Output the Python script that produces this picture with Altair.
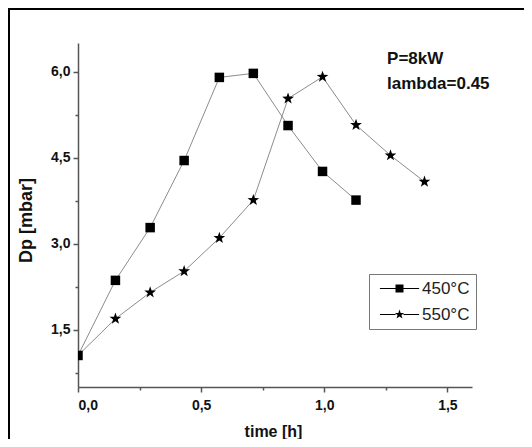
import altair as alt
import pandas as pd

# ---- data ----
series_names = ["450°C", "550°C"]
t_450 = [0.0, 0.152, 0.293, 0.431, 0.574, 0.712, 0.853, 0.993, 1.129]
dp_450 = [1.05, 2.36, 3.28, 4.45, 5.90, 5.97, 5.06, 4.26, 3.76]
t_550 = [0.0, 0.152, 0.293, 0.431, 0.574, 0.712, 0.853, 0.993, 1.129, 1.269, 1.407]
dp_550 = [1.05, 1.69, 2.15, 2.52, 3.10, 3.76, 5.53, 5.91, 5.07, 4.54, 4.08]

x_major = [0.0, 0.5, 1.0, 1.5]
x_minor = [0.25, 0.75, 1.25]
y_major = [1.5, 3.0, 4.5, 6.0]
y_minor = [0.75, 2.25, 3.75, 5.25]

annot_text = ["P=8kW", "lambda=0.45"]
annot_x = [1.255, 1.255]
annot_y = [6.128, 5.70]

# ---- tables ----
rows = []
for t, v in zip(t_450, dp_450):
    rows.append({"time": t, "dp": v, "series": series_names[0]})
for t, v in zip(t_550, dp_550):
    rows.append({"time": t, "dp": v, "series": series_names[1]})
df = pd.DataFrame(rows)
df_pts = df[~((df["series"] == series_names[1]) & (df["time"] == 0))]
df_annot = pd.DataFrame({"ax": annot_x, "ay": annot_y, "txt": annot_text})

FONT = "Liberation Sans"
SQUARE = "M-1,-1L1,-1L1,1L-1,1Z"
STAR_BODY = ("M0,-1.3L0.306,-0.42L1.236,-0.402L0.495,0.161L0.764,1.052L0,0.52"
             "L-0.764,1.052L-0.495,0.161L-1.236,-0.402L-0.306,-0.42Z")
LEG_LINES = "M-4.9,-0.14L-1,-0.14L-1,0.14L-4.9,0.14ZM1,-0.14L4.9,-0.14L4.9,0.14L1,0.14Z"
LEG_SQUARE = LEG_LINES + SQUARE
LEG_STAR = LEG_LINES + ("M0,-1.25L0.294,-0.404L1.189,-0.386L0.476,0.155L0.735,1.011L0,0.5"
                        "L-0.735,1.011L-0.476,0.155L-1.189,-0.386L-0.294,-0.404Z")

xscale = alt.Scale(domain=[0, 1.6], nice=False, zero=False)
yscale = alt.Scale(domain=[0.5, 6.5], nice=False, zero=False)
label_expr = "replace(format(datum.value, '.1f'), '.', ',')"

axis_common = dict(
    domainColor="#555555", domainWidth=1.5, tickColor="#555555", tickWidth=1.5,
    labelFont=FONT, labelFontSize=14, labelFontWeight="bold", labelColor="#111111",
    titleFont=FONT, titleFontWeight="bold", titleColor="#111111", grid=False,
)

lines = alt.Chart(df).mark_line(color="#8c8c8c", strokeWidth=1).encode(
    x=alt.X("time:Q", scale=xscale, axis=alt.Axis(
        values=x_major, labelExpr=label_expr, orient="bottom", tickSize=5,
        labelPadding=6, title="time [h]", titleFontSize=16, titleX=195,
        titleY=44, titleAlign="center", titleBaseline="middle", **axis_common)),
    y=alt.Y("dp:Q", scale=yscale, axis=alt.Axis(
        values=y_major, labelExpr=label_expr, orient="left", tickSize=5,
        labelPadding=3, title="Dp [mbar]", titleFontSize=18, titleX=-52,
        titleY=177, titleAlign="center", titleBaseline="middle",
        titleAngle=270, **axis_common)),
    detail="series:N",
)

points = alt.Chart(df_pts).mark_point(
    filled=True, color="black", opacity=1, size=90, clip=True
).encode(
    x=alt.X("time:Q", scale=xscale, axis=alt.Axis(
        values=x_minor, labels=False, domain=False, orient="bottom",
        tickSize=3, tickColor="#555555", tickWidth=1.5, grid=False, title=None)),
    y=alt.Y("dp:Q", scale=yscale, axis=alt.Axis(
        values=y_minor, labels=False, domain=False, orient="left",
        tickSize=3, tickColor="#555555", tickWidth=1.5, grid=False, title=None)),
    shape=alt.Shape("series:N", scale=alt.Scale(domain=series_names,
                                                range=[SQUARE, STAR_BODY]), legend=None),
)

legend_layer = alt.Chart(df).mark_point(
    filled=True, color="black", opacity=1, size=64
).encode(
    shape=alt.Shape("series:N", scale=alt.Scale(domain=series_names,
                                                range=[LEG_SQUARE, LEG_STAR]),
                    legend=alt.Legend(
                        title=None, orient="none", legendX=291, legendY=231,
                        padding=6, strokeColor="#777777", fillColor="white",
                        labelFont=FONT, labelFontSize=17, labelFontWeight="normal",
                        labelColor="#222222", rowPadding=8, symbolOffset=16,
                        symbolSize=64, labelOffset=14)),
).transform_filter("false")

annot = alt.Chart(df_annot).mark_text(
    align="left", baseline="alphabetic", font=FONT, fontSize=17,
    fontWeight="bold", color="#111111"
).encode(
    x=alt.X("ax:Q", scale=xscale, axis=None),
    y=alt.Y("ay:Q", scale=yscale, axis=None),
    text="txt:N",
)

frame_df = pd.DataFrame({"k": [0]})
frame_top = alt.Chart(frame_df).mark_rule(color="black", strokeWidth=2).encode(
    x=alt.value(-70), x2=alt.value(446), y=alt.value(-34))
frame_left = alt.Chart(frame_df).mark_rule(color="black", strokeWidth=2).encode(
    x=alt.value(-69), y=alt.value(-35), y2=alt.value(396))

chart = alt.layer(
    frame_top, frame_left, lines, points, annot, legend_layer
).resolve_scale(shape="independent").resolve_axis(
    x="independent", y="independent"
).properties(
    width=394, height=344,
    autosize=alt.AutoSizeParams(type="none"),
    padding={"left": 70, "top": 35, "right": 52, "bottom": 52},
    background="white",
).configure_view(stroke="transparent")

chart.save("out.html", embed_options={"renderer": "svg", "actions": False})
